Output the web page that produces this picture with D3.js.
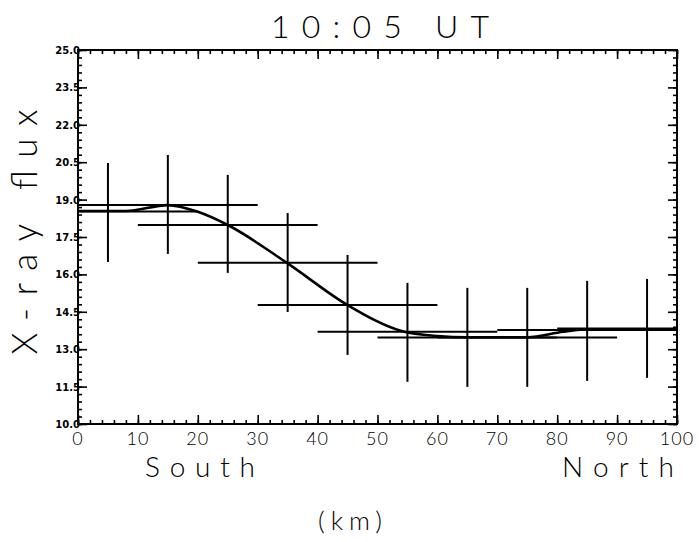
<!DOCTYPE html>
<html>
<head>
<meta charset="utf-8">
<script src="https://cdn.jsdelivr.net/npm/d3@7"></script>
<style>
  body { margin: 0; background: #fff; }
  svg { display: block; }
  text { font-family: "DejaVu Sans", sans-serif; fill: #000; }
  .thin { font-family: Lato, "Open Sans", sans-serif; font-weight: 300; }
  .domain { display: none; }
</style>
</head>
<body>
<div id="chart"></div>
<script>
// data
const title = "10:05 UT";
const positions = [5, 15, 25, 35, 45, 55, 65, 75, 85, 95];      // km
const flux      = [18.52, 18.78, 17.98, 16.47, 14.77, 13.70, 13.47, 13.47, 13.77, 13.83];
const fluxLow   = [16.50, 16.82, 16.06, 14.49, 12.77, 11.69, 11.49, 11.49, 11.73, 11.85];
const fluxHigh  = [20.47, 20.79, 19.99, 18.46, 16.78, 15.66, 15.46, 15.46, 15.74, 15.82];
const xErr      = [15, 15, 15, 15, 15, 15, 15, 15, 15, 15];

// fitted curve
const curveKm   = [0, 8, 15, 20, 25, 35, 45, 54, 60, 65, 75, 81, 85, 100];
const curveFlux = [18.54, 18.54, 18.78, 18.51, 17.98, 16.44, 14.77, 13.73, 13.53, 13.48, 13.48, 13.70, 13.80, 13.80];

const xTicks = [0, 10, 20, 30, 40, 50, 60, 70, 80, 90, 100];
const yTicks = [10.0, 11.5, 13.0, 14.5, 16.0, 17.5, 19.0, 20.5, 22.0, 23.5, 25.0];

const W = 700, H = 542;
const pLeft = 78, pRight = 677, pTop = 50, pBottom = 424;

const svg = d3.select("#chart").append("svg")
  .attr("width", W)
  .attr("height", H);

const x = d3.scaleLinear().domain([0, 100]).range([pLeft, pRight]);
const y = d3.scaleLinear().domain([10, 25]).range([pBottom, pTop]);

const xMinor = d3.range(0, 100.01, 2);
const yMinor = d3.range(0, 51).map(i => 10 + i * 0.3);

// inward ticks on all four sides
function ticks(axis, pos, values, size) {
  svg.append("g")
    .attr("transform", pos)
    .call(axis.tickValues(values).tickSize(-size).tickFormat(""))
    .selectAll("line").attr("stroke", "#000").attr("stroke-width", 1.6);
}
ticks(d3.axisBottom(x), `translate(0,${pBottom})`, xMinor, 4);
ticks(d3.axisBottom(x), `translate(0,${pBottom})`, xTicks, 9);
ticks(d3.axisTop(x), `translate(0,${pTop})`, xMinor, 4);
ticks(d3.axisTop(x), `translate(0,${pTop})`, xTicks, 9);
ticks(d3.axisLeft(y), `translate(${pLeft},0)`, yMinor, 4);
ticks(d3.axisLeft(y), `translate(${pLeft},0)`, yTicks, 9);
ticks(d3.axisRight(y), `translate(${pRight},0)`, yMinor, 4);
ticks(d3.axisRight(y), `translate(${pRight},0)`, yTicks, 9);

// frame
svg.append("rect")
  .attr("x", pLeft).attr("y", pTop)
  .attr("width", pRight - pLeft).attr("height", pBottom - pTop)
  .attr("fill", "none").attr("stroke", "#000").attr("stroke-width", 2);

// tick labels
svg.append("g").selectAll("text")
  .data(xTicks)
  .join("text")
  .attr("class", "thin")
  .attr("x", d => x(d))
  .attr("y", pBottom + 21)
  .attr("text-anchor", "middle")
  .attr("font-size", 18)
  .attr("letter-spacing", 1)
  .text(d => d);

svg.append("g").selectAll("text")
  .data(yTicks)
  .join("text")
  .attr("x", pLeft + 2)
  .attr("y", d => y(d) + 4)
  .attr("text-anchor", "end")
  .attr("font-size", 10)
  .attr("font-weight", "bold")
  .text(d => d3.format(".1f")(d));

// error bars
const clip = v => Math.max(0, Math.min(100, v));
const bars = svg.append("g").attr("stroke", "#000").attr("stroke-width", 2);
positions.forEach((p, i) => {
  bars.append("line")
    .attr("x1", x(clip(p - xErr[i]))).attr("x2", x(clip(p + xErr[i])))
    .attr("y1", y(flux[i])).attr("y2", y(flux[i]));
  bars.append("line")
    .attr("x1", x(p)).attr("x2", x(p))
    .attr("y1", y(fluxLow[i])).attr("y2", y(fluxHigh[i]));
});

// curve
const line = d3.line()
  .x(d => x(d[0]))
  .y(d => y(d[1]))
  .curve(d3.curveMonotoneX);
svg.append("path")
  .datum(curveKm.map((k, i) => [k, curveFlux[i]]))
  .attr("d", line)
  .attr("fill", "none")
  .attr("stroke", "#000")
  .attr("stroke-width", 2.6);

// titles
svg.append("text")
  .attr("class", "thin")
  .attr("x", 380).attr("y", 38)
  .attr("text-anchor", "middle")
  .attr("font-size", 32)
  .attr("textLength", 218).attr("lengthAdjust", "spacing")
  .text(title);

svg.append("text")
  .attr("class", "thin")
  .attr("transform", "translate(37,232) rotate(-90)")
  .attr("text-anchor", "middle")
  .attr("font-size", 35)
  .attr("textLength", 245).attr("lengthAdjust", "spacing")
  .text("X-ray flux");

svg.append("text")
  .attr("class", "thin")
  .attr("x", 200).attr("y", 477)
  .attr("text-anchor", "middle")
  .attr("font-size", 28)
  .attr("textLength", 110).attr("lengthAdjust", "spacing")
  .text("South");

svg.append("text")
  .attr("class", "thin")
  .attr("x", 618).attr("y", 477)
  .attr("text-anchor", "middle")
  .attr("font-size", 28)
  .attr("textLength", 112).attr("lengthAdjust", "spacing")
  .text("North");

svg.append("text")
  .attr("class", "thin")
  .attr("x", 350).attr("y", 530)
  .attr("text-anchor", "middle")
  .attr("font-size", 26)
  .attr("textLength", 64).attr("lengthAdjust", "spacing")
  .text("(km)");
</script>
</body>
</html>
